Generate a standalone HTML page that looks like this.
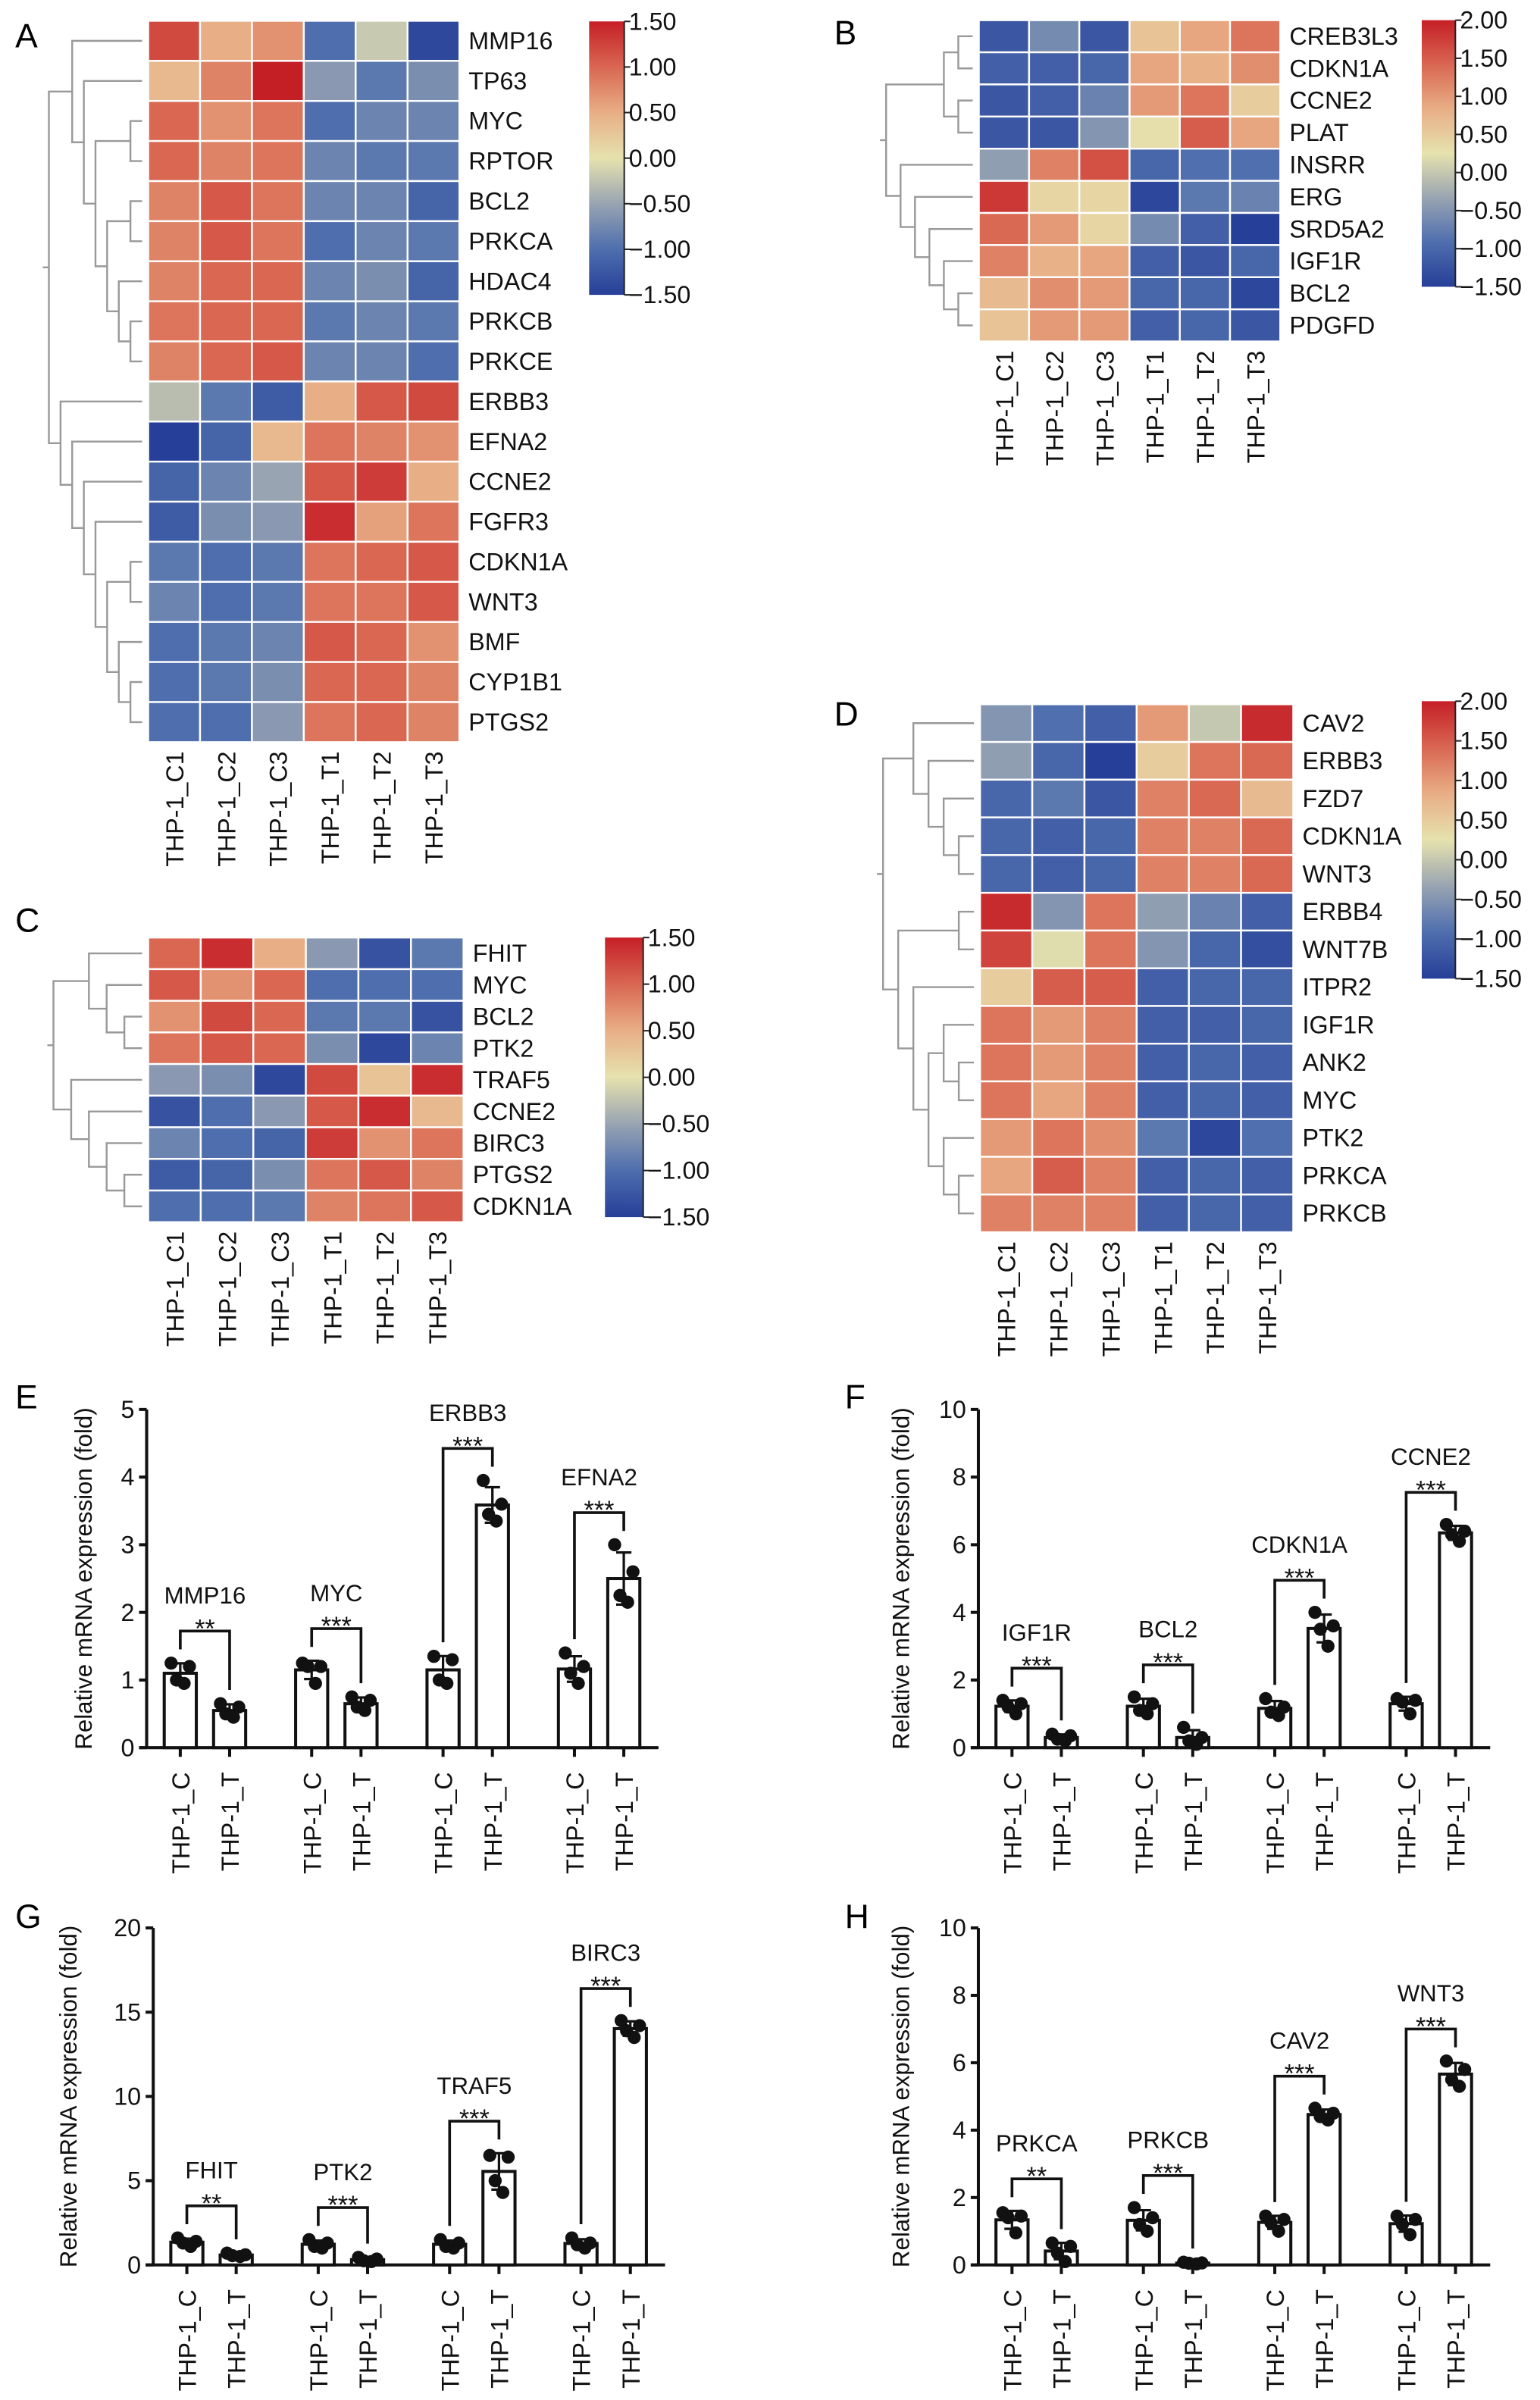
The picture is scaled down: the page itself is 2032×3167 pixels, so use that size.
<!DOCTYPE html>
<html><head><meta charset="utf-8"><style>
html,body{margin:0;padding:0;background:#fff}
svg{display:block;font-family:"Liberation Sans",Arial,sans-serif}
</style></head><body>
<svg id="fig" xmlns="http://www.w3.org/2000/svg" width="2032" height="3167" viewBox="0 0 1008 1571">
<defs>
<linearGradient id="cmap" x1="0" y1="1" x2="0" y2="0">
<stop offset="0" stop-color="#263f98"/><stop offset="0.17" stop-color="#4f6fae"/><stop offset="0.33" stop-color="#97a3b2"/><stop offset="0.5" stop-color="#e6e2ae"/><stop offset="0.67" stop-color="#e8ad85"/><stop offset="0.83" stop-color="#d96853"/><stop offset="1" stop-color="#c51f26"/>
</linearGradient>
</defs>
</svg>
<script>
// ---------- Heatmap data ----------
const cols = ["THP-1_C1","THP-1_C2","THP-1_C3","THP-1_T1","THP-1_T2","THP-1_T3"];
const heatA_rows = ["MMP16","TP63","MYC","RPTOR","BCL2","PRKCA","HDAC4","PRKCB","PRKCE","ERBB3","EFNA2","CCNE2","FGFR3","CDKN1A","WNT3","BMF","CYP1B1","PTGS2"];
const heatA_vals = [
[1.2,0.5,0.7,-1.0,-0.2,-1.4],[0.4,0.8,1.5,-0.6,-0.9,-0.7],[1.0,0.7,0.9,-1.0,-0.8,-0.8],[1.0,0.8,0.9,-0.8,-0.9,-0.9],
[0.8,1.1,0.9,-0.8,-0.8,-1.1],[0.8,1.1,0.9,-1.0,-0.8,-0.9],[0.8,1.0,1.0,-0.8,-0.7,-1.1],[0.9,1.0,1.0,-0.9,-0.8,-0.9],
[0.8,1.0,1.1,-0.8,-0.8,-1.0],[-0.3,-0.9,-1.2,0.5,1.1,1.2],[-1.5,-1.1,0.4,0.9,0.8,0.7],[-1.1,-0.8,-0.5,1.1,1.3,0.5],
[-1.2,-0.7,-0.6,1.4,0.6,0.9],[-0.9,-1.0,-0.9,0.9,1.0,1.1],[-0.8,-1.0,-0.9,0.9,0.9,1.1],[-1.0,-0.9,-0.8,1.1,1.0,0.7],
[-1.0,-0.9,-0.7,1.0,1.0,0.8],[-1.0,-1.0,-0.6,0.9,1.0,0.8]];
const heatA_ticks = ["1.50","1.00","0.50","0.00","\u22120.50","\u22121.00","\u22121.50"];
const heatA_tree = [[0,[1,[[2,3],[[4,5],[6,[7,8]]]]]],[9,[10,[11,[12,[[13,14],[15,[16,17]]]]]]]];

const heatB_rows = ["CREB3L3","CDKN1A","CCNE2","PLAT","INSRR","ERG","SRD5A2","IGF1R","BCL2","PDGFD"];
const heatB_vals = [
[-1.2,-0.6,-1.2,0.6,0.9,1.3],[-1.1,-1.1,-1.0,0.9,0.8,1.1],[-1.2,-1.1,-0.7,1.0,1.3,0.5],[-1.2,-1.2,-0.5,0.3,1.5,0.9],
[-0.4,1.2,1.6,-1.0,-0.9,-0.9],[1.8,0.4,0.4,-1.4,-0.8,-0.7],[1.4,1.0,0.4,-0.6,-1.1,-1.5],[1.2,0.8,0.9,-1.1,-1.2,-1.0],
[0.7,1.1,1.0,-1.0,-1.0,-1.4],[0.6,1.0,1.0,-1.1,-1.0,-1.2]];
const heatB_ticks = ["2.00","1.50","1.00","0.50","0.00","\u22120.50","\u22121.00","\u22121.50"];
const heatB_tree = [[[0,1],[2,3]],[4,[5,[6,[7,[8,9]]]]]];

const heatC_rows = ["FHIT","MYC","BCL2","PTK2","TRAF5","CCNE2","BIRC3","PTGS2","CDKN1A"];
const heatC_vals = [
[1.0,1.4,0.5,-0.6,-1.3,-0.9],[1.1,0.7,1.0,-1.0,-1.0,-1.0],[0.7,1.2,1.0,-0.9,-0.9,-1.3],[0.9,1.1,1.0,-0.7,-1.4,-0.8],
[-0.6,-0.7,-1.4,1.2,0.3,1.4],[-1.3,-1.0,-0.6,1.1,1.4,0.4],[-0.8,-1.0,-1.1,1.3,0.7,0.9],[-1.2,-1.1,-0.7,0.9,1.1,0.8],
[-1.0,-1.0,-0.9,0.8,0.9,1.1]];
const heatC_ticks = ["1.50","1.00","0.50","0.00","\u22120.50","\u22121.00","\u22121.50"];
const heatC_tree = [[0,[1,[2,3]]],[4,[5,[6,[7,8]]]]];

const heatD_rows = ["CAV2","ERBB3","FZD7","CDKN1A","WNT3","ERBB4","WNT7B","ITPR2","IGF1R","ANK2","MYC","PTK2","PRKCA","PRKCB"];
const heatD_vals = [
[-0.5,-0.9,-1.1,1.0,0.0,1.9],[-0.4,-1.0,-1.5,0.5,1.3,1.4],[-1.0,-0.8,-1.2,1.2,1.4,0.7],[-1.0,-1.1,-1.0,1.2,1.2,1.4],
[-1.0,-1.1,-1.0,1.2,1.2,1.4],[1.9,-0.5,1.3,-0.4,-0.7,-1.1],[1.7,0.2,1.3,-0.5,-1.0,-1.3],[0.5,1.5,1.5,-1.1,-1.0,-1.0],
[1.3,1.0,1.2,-1.1,-1.1,-1.0],[1.3,1.0,1.2,-1.1,-1.0,-1.1],[1.3,0.9,1.2,-1.1,-1.0,-1.1],[1.0,1.3,1.1,-0.8,-1.4,-0.9],
[0.9,1.5,1.2,-1.1,-1.0,-1.1],[1.2,1.2,1.2,-1.1,-1.0,-1.1]];
const heatD_ticks = ["2.00","1.50","1.00","0.50","0.00","\u22120.50","\u22121.00","\u22121.50"];
const heatD_tree = [[0,[1,[2,[3,4]]]],[[5,6],[7,[[8,[9,10]],[11,[12,13]]]]]];

// ---------- Bar chart data ----------
const barE_genes = ["MMP16","MYC","ERBB3","EFNA2"];
const barE_sig = ["**","***","***","***"];
const barE_ctrl = [[1.25,1.2,1.0,0.95],[1.25,1.2,1.2,0.95],[1.35,1.3,1.0,0.95],[1.4,1.2,1.1,0.95]];
const barE_treat = [[0.65,0.6,0.5,0.45],[0.75,0.7,0.6,0.55],[3.95,3.6,3.45,3.35],[3.0,2.6,2.25,2.15]];
const barE_ticks = [0,1,2,3,4,5];

const barF_genes = ["IGF1R","BCL2","CDKN1A","CCNE2"];
const barF_sig = ["***","***","***","***"];
const barF_ctrl = [[1.4,1.3,1.2,1.0],[1.5,1.3,1.1,1.0],[1.45,1.2,1.05,0.95],[1.45,1.4,1.35,1.0]];
const barF_treat = [[0.4,0.35,0.25,0.2],[0.6,0.3,0.2,0.1],[4.0,3.6,3.5,3.0],[6.6,6.4,6.3,6.1]];
const barF_ticks = [0,2,4,6,8,10];

const barG_genes = ["FHIT","PTK2","TRAF5","BIRC3"];
const barG_sig = ["**","***","***","***"];
const barG_ctrl = [[1.6,1.4,1.3,1.1],[1.5,1.3,1.1,1.0],[1.5,1.3,1.1,1.0],[1.6,1.3,1.2,1.0]];
const barG_treat = [[0.7,0.6,0.55,0.5],[0.45,0.35,0.25,0.2],[6.5,6.4,5.0,4.3],[14.5,14.2,13.9,13.5]];
const barG_ticks = [0,5,10,15,20];

const barH_genes = ["PRKCA","PRKCB","CAV2","WNT3"];
const barH_sig = ["**","***","***","***"];
const barH_ctrl = [[1.55,1.45,1.4,0.95],[1.7,1.4,1.2,1.0],[1.45,1.35,1.25,1.0],[1.45,1.35,1.2,0.9]];
const barH_treat = [[0.65,0.55,0.35,0.1],[0.08,0.06,0.05,0.03],[4.65,4.5,4.4,4.3],[6.05,5.8,5.5,5.3]];
const barH_ticks = [0,2,4,6,8,10];

// ---------- helpers ----------
const NS = "http://www.w3.org/2000/svg";
const svg = document.getElementById("fig");
function mk(tag, attrs, parent, text){
  const e = document.createElementNS(NS, tag);
  for (const k in attrs) e.setAttribute(k, attrs[k]);
  if (text !== undefined) e.textContent = text;
  (parent || svg).appendChild(e);
  return e;
}
const stops = [[0,[38,63,152]],[0.17,[79,111,174]],[0.33,[151,163,178]],[0.5,[230,226,174]],[0.67,[232,173,133]],[0.83,[217,104,83]],[1,[197,31,38]]];
function cmap(t){
  t = Math.max(0, Math.min(1, t));
  for (let i = 1; i < stops.length; i++){
    if (t <= stops[i][0]){
      const a = stops[i-1], b = stops[i], f = (t - a[0]) / (b[0] - a[0]);
      const c = a[1].map((v, j) => Math.round(v + (b[1][j] - v) * f));
      return "rgb(" + c.join(",") + ")";
    }
  }
  return "rgb(197,31,38)";
}

function heatmap(o){
  const g = mk("g", {});
  
  
  const nR = o.rows.length, cw = (o.gx2 - o.gx) / 6, rh = (o.gy2 - o.gy) / nR;
  const lt = mk("text", {x:o.lx, y:o.ly, "font-size":22}, g, o.letter);
  
  
  o.vals.forEach((row, r) => row.forEach((v, c) => {
    const rc = mk("rect", {x:o.gx + c*cw, y:o.gy + r*rh, width:cw, height:rh, fill:cmap((v - o.vmin)/(o.vmax - o.vmin)), stroke:"#fff", "stroke-width":1.2}, g);
    
    
  }));
  o.rows.forEach((n, r) => {
    const t = mk("text", {x:o.gx2 + 6, y:o.gy + (r+0.5)*rh + 5.5, "font-size":16, fill:"#111"}, g, n);
    
    
  });
  cols.forEach((n, c) => {
    const x = o.gx + (c+0.5)*cw + 6, y = o.gy2 + 6;
    const t = mk("text", {x:x, y:y, "font-size":16, "text-anchor":"end", transform:"rotate(-90 " + x + " " + y + ")", fill:"#111"}, g, n);
    
    
  });
  // colorbar
  const cb = mk("rect", {x:o.cbx, y:o.cby, width:o.cbw, height:o.cbh, fill:"url(#cmap)"}, g);
  
  
  mk("line", {x1:o.cbx + o.cbw, y1:o.cby, x2:o.cbx + o.cbw, y2:o.cby + o.cbh, stroke:"#222", "stroke-width":1}, g);
  o.ticks.forEach((tk, i) => {
    const y = o.cby + i * o.cbh / (o.ticks.length - 1);
    mk("line", {x1:o.cbx + o.cbw, y1:y, x2:o.cbx + o.cbw + 4, y2:y, stroke:"#222", "stroke-width":1}, g);
    const t = mk("text", {x:o.cbx + o.cbw + 3, y:y + 5.5, "font-size":16, fill:"#111"}, g, tk);
    
    
  });
  // dendrogram
  function height(n){ return Array.isArray(n) ? 1 + Math.max(height(n[0]), height(n[1])) : 0; }
  const H = height(o.tree), step = (o.gx - 4 - o.rootX) / H;
  const dg = mk("g", {stroke:"#999", "stroke-width":1.2, fill:"none"}, g);
  
  
  function draw(n){
    if (!Array.isArray(n)) return {y: o.gy + (n+0.5)*rh, x: o.gx - 4};
    const a = draw(n[0]), b = draw(n[1]);
    const x = o.gx - 4 - height(n)*step;
    mk("path", {d:"M" + a.x + " " + a.y + "H" + x + "V" + b.y + "H" + b.x}, dg);
    return {x:x, y:(a.y + b.y)/2};
  }
  const root = draw(o.tree);
  mk("line", {x1:root.x - 4, y1:root.y, x2:root.x, y2:root.y}, dg);
}

heatmap({name:"heatmap-a", letter:"A", lx:10, ly:31, rows:heatA_rows, vals:heatA_vals, vmin:-1.5, vmax:1.5, ticks:heatA_ticks, tree:heatA_tree,
  gx:97, gx2:300.7, gy:13.6, gy2:485.8, cbx:385.6, cbw:23, cby:14, cbh:179, rootX:32});
heatmap({name:"heatmap-b", letter:"B", lx:546, ly:29, rows:heatB_rows, vals:heatB_vals, vmin:-1.5, vmax:2, ticks:heatB_ticks, tree:heatB_tree,
  gx:640.7, gx2:838, gy:13.2, gy2:223.5, cbx:930.6, cbw:22, cby:13.2, cbh:174.5, rootX:580});
heatmap({name:"heatmap-c", letter:"C", lx:10, ly:610, rows:heatC_rows, vals:heatC_vals, vmin:-1.5, vmax:1.5, ticks:heatC_ticks, tree:heatC_tree,
  gx:97, gx2:303.4, gy:613.7, gy2:800, cbx:396, cbw:25, cby:613.7, cbh:183, rootX:35});
heatmap({name:"heatmap-d", letter:"D", lx:546, ly:475, rows:heatD_rows, vals:heatD_vals, vmin:-1.5, vmax:2, ticks:heatD_ticks, tree:heatD_tree,
  gx:641.5, gx2:846.5, gy:461, gy2:806.6, cbx:930.6, cbw:22, cby:459, cbh:181.6, rootX:578});

// ---------- bar charts ----------
const jitter = [-6, 6, -2.5, 2.5];
function mean(a){ return a.reduce((s,v)=>s+v,0)/a.length; }
function sd(a){ const m = mean(a); return Math.sqrt(a.reduce((s,v)=>s+(v-m)*(v-m),0)/(a.length-1)); }

function barchart(o){
  const g = mk("g", {}); 
  
  
  const ymax = o.ticks[o.ticks.length-1];
  const Y = v => o.y0 - (v / ymax) * (o.y0 - o.yTop);
  const X = (grp, k) => o.ax + 22 + grp*86 + k*32.3;
  const lt = mk("text", {x:o.lx, y:o.ly, "font-size":22}, g, o.letter);
  
  
  // axes
  const ya = mk("line", {x1:o.ax, y1:o.y0, x2:o.ax, y2:o.yTop, stroke:"#111", "stroke-width":2}, g);
  
  
  const xa = mk("line", {x1:o.ax - 5, y1:o.y0, x2:o.ax + 335, y2:o.y0, stroke:"#111", "stroke-width":2}, g);
  
  
  o.ticks.forEach(tk => {
    const y = Y(tk);
    mk("line", {x1:o.ax - 5, y1:y, x2:o.ax, y2:y, stroke:"#111", "stroke-width":2}, g);
    const t = mk("text", {x:o.ax - 8, y:y + 5.5, "font-size":16, "text-anchor":"end", fill:"#111"}, g, String(tk));
    
    
  });
  const yl = mk("text", {x:o.ylx, y:(o.y0 + o.yTop)/2, "font-size":15.5, "text-anchor":"middle", transform:"rotate(-90 " + o.ylx + " " + (o.y0 + o.yTop)/2 + ")", fill:"#111"}, g, "Relative mRNA expression (fold)");
  
  
  o.genes.forEach((gene, i) => {
    const sets = [o.ctrl[i], o.treat[i]], names = ["THP-1_C","THP-1_T"];
    const maxes = [];
    sets.forEach((pts, k) => {
      const cx = X(i, k), m = mean(pts), s = sd(pts);
      const b = mk("rect", {x:cx - 10.5, y:Y(m), width:21, height:o.y0 - Y(m), fill:"#fff", stroke:"#111", "stroke-width":2}, g);
      
      
      mk("path", {d:"M" + cx + " " + Y(m - s) + "V" + Y(m + s) + "M" + (cx-5) + " " + Y(m + s) + "H" + (cx+5) + "M" + (cx-5) + " " + Y(m - s) + "H" + (cx+5), stroke:"#111", "stroke-width":1.6, fill:"none"}, g);
      pts.forEach((p, j) => {
        const d = mk("circle", {cx:cx + jitter[j], cy:Y(p), r:4.3, fill:"#111"}, g);
        
        
      });
      maxes.push(Math.max(...pts, m + s));
      mk("line", {x1:cx, y1:o.y0, x2:cx, y2:o.y0 + 6, stroke:"#111", "stroke-width":2}, g);
      const tx = cx + 6, ty = o.y0 + 16;
      const t = mk("text", {x:tx, y:ty, "font-size":16, "text-anchor":"end", transform:"rotate(-90 " + tx + " " + ty + ")", fill:"#111"}, g, names[k]);
      
      
    });
    const top = Math.min(Y(maxes[0]), Y(maxes[1])) - 21;
    const x1 = X(i, 0), x2 = X(i, 1);
    const br = mk("path", {d:"M" + x1 + " " + (Y(maxes[0]) - 9) + "V" + top + "H" + x2 + "V" + (Y(maxes[1]) - 9), stroke:"#111", "stroke-width":1.8, fill:"none"}, g);
    
    
    const st = mk("text", {x:(x1 + x2)/2, y:top + 4, "font-size":17, "text-anchor":"middle", fill:"#111"}, g, o.sig[i]);
    
    
    const gl = mk("text", {x:(x1 + x2)/2, y:top - 18, "font-size":15.5, "text-anchor":"middle", fill:"#111"}, g, gene);
    
    
  });
}

barchart({name:"bar-chart-e", letter:"E", lx:10, ly:922, ax:96, y0:1144, yTop:922.6, ylx:60, ticks:barE_ticks, genes:barE_genes, sig:barE_sig, ctrl:barE_ctrl, treat:barE_treat});
barchart({name:"bar-chart-f", letter:"F", lx:553, ly:922, ax:640.4, y0:1144, yTop:922.6, ylx:595, ticks:barF_ticks, genes:barF_genes, sig:barF_sig, ctrl:barF_ctrl, treat:barF_treat});
barchart({name:"bar-chart-g", letter:"G", lx:10, ly:1262, ax:100.3, y0:1482.6, yTop:1262, ylx:50, ticks:barG_ticks, genes:barG_genes, sig:barG_sig, ctrl:barG_ctrl, treat:barG_treat});
barchart({name:"bar-chart-h", letter:"H", lx:553, ly:1262, ax:640.4, y0:1482.6, yTop:1262, ylx:595, ticks:barH_ticks, genes:barH_genes, sig:barH_sig, ctrl:barH_ctrl, treat:barH_treat});
</script>
</body></html>
